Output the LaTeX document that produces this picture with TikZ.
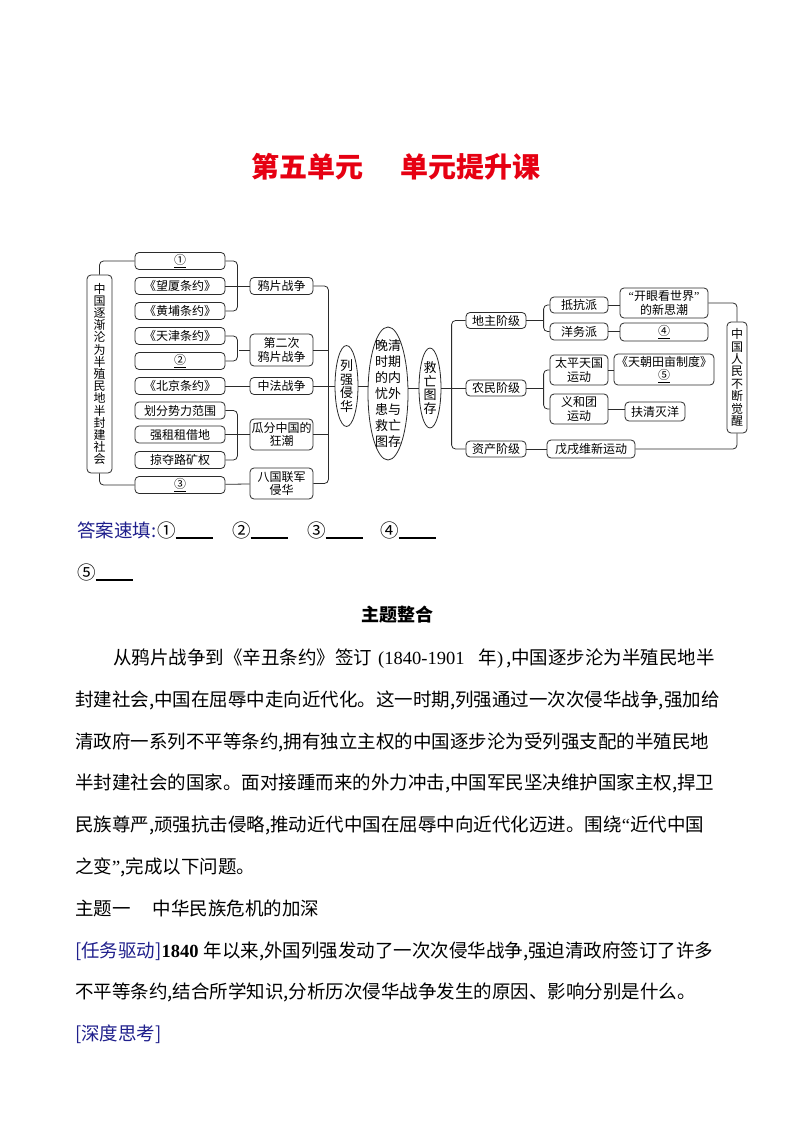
\documentclass[tikz,border=0pt]{standalone}
\usepackage{fontspec}
\setmainfont{Liberation Serif}
\newfontfamily\cjk{Noto Sans CJK SC}
\definecolor{ink}{HTML}{2B2B2B}
\definecolor{titlec}{HTML}{E60012}
\definecolor{navy}{HTML}{1F1F8C}
\usetikzlibrary{shapes.geometric}

\begin{document}
\begin{tikzpicture}[x=1pt,y=-1pt,every node/.style={font=\cjk\fontsize{12}{13.5}\selectfont}]
\tikzstyle{tag}=[rounded corners=4pt,draw=ink,line width=0.8pt,fill=white,inner sep=0pt,align=center,minimum width=90pt,minimum height=17pt]
\tikzstyle{war}=[tag,minimum width=63pt]
\tikzstyle{cls}=[tag,minimum width=60pt,minimum height=16pt]
\tikzstyle{grp}=[tag,minimum width=58pt,minimum height=17pt]
\tikzstyle{oval}=[ellipse,draw=ink,line width=0.8pt,fill=white,inner sep=0pt,align=center,font=\cjk\fontsize{13}{13.5}\selectfont]
\tikzstyle{link}=[draw=ink,line width=0.8pt,rounded corners=4pt]
\tikzstyle{para}=[anchor=base west,inner sep=0pt,font=\cjk\fontsize{18.5}{18.5}\selectfont]
\fill[white] (0,0) rectangle (794,1123);

% title
\node[font=\cjk\bfseries\fontsize{28}{28}\selectfont,text=titlec] (title) at (396,167) {第五单元\hspace{37pt}单元提升课};

% left half: treaties and wars
\node[tag,minimum width=25pt,minimum height=198pt,font=\cjk\fontsize{12}{12.2}\selectfont] (lead) at (99.5,374) {中\\国\\逐\\渐\\沦\\为\\半\\殖\\民\\地\\半\\封\\建\\社\\会};
\node[tag] (t1) at (180,261) {\underline{①}};
\node[tag] (t2) at (180,286) {《望厦条约》};
\node[tag] (t3) at (180,311) {《黄埔条约》};
\node[tag] (t4) at (180,336) {《天津条约》};
\node[tag] (t5) at (180,361) {\underline{②}};
\node[tag] (t6) at (180,386) {《北京条约》};
\node[tag] (t7) at (180,410.5) {划分势力范围};
\node[tag] (t8) at (180,434.5) {强租租借地};
\node[tag] (t9) at (180,460) {掠夺路矿权};
\node[tag] (t10) at (180,485) {\underline{③}};
\node[war] (yapian) at (281.5,286) {鸦片战争};
\node[war,minimum height=32pt] (dier) at (281.5,350) {第二次\\鸦片战争};
\node[war] (zhongfa) at (281.5,386) {中法战争};
\node[war,minimum height=31pt] (guafen) at (281.5,434.5) {瓜分中国的\\狂潮};
\node[war,minimum height=31pt] (baguo) at (281.5,483.5) {八国联军\\侵华};
\draw[link] (lead.north) |- (t1.west);
\draw[link] (lead.south) |- (t10.west);
\draw[link] (t1.east) -- ++(12,0) |- (t3.east);
\draw[link] (t2) -- (yapian);
\draw[link] (t4.east) -- ++(12,0) |- (t5.east);
\draw[link] (dier.west) -- ++(-11,0);
\draw[link] (t6) -- (zhongfa);
\draw[link] (t7.east) -- ++(12,0) |- (t9.east);
\draw[link] (t8) -- (guafen);
\draw[link] (t10) -- (baguo);
\draw[link] (yapian.east) -- ++(15,0) |- (baguo.east);
\draw[link] (dier.east) -- ++(15,0);
\draw[link] (guafen.east) -- ++(15,0);

% centre
\node[oval,minimum width=23pt,minimum height=81pt] (liqiang) at (346.5,386) {列\\强\\侵\\华};
\node[oval,minimum width=40pt,minimum height=133pt,label={[align=center,font=\cjk\fontsize{13}{16}\selectfont]center:{晚清\\时期\\的内\\忧外\\患与\\救亡\\图存}}] (core) at (388,393.5) {};
\node[oval,minimum width=22pt,minimum height=80pt] (jiuwang) at (430,388) {救\\亡\\图\\存};
\draw[link] (zhongfa) -- (liqiang);
\draw[link] (liqiang.east) -- (liqiang.east -| core.west);
\draw[link] (jiuwang.west) -- (jiuwang.west -| core.east);

% right half: classes and movements
\node[cls] (dizhu) at (496,320.5) {地主阶级};
\node[cls] (nongmin) at (496,388) {农民阶级};
\node[cls] (zichan) at (496,449) {资产阶级};
\node[grp,minimum height=16pt] (dikang) at (579,305) {抵抗派};
\node[grp] (yangwu) at (579,331.5) {洋务派};
\node[grp,minimum height=30pt] (taiping) at (579,370) {太平天国\\运动};
\node[grp,minimum height=30pt] (yihe) at (579,409) {义和团\\运动};
\node[tag,minimum width=88pt,minimum height=30pt] (kaiyan) at (664,303) {{\rmfamily“}开眼看世界{\rmfamily”}\\的新思潮};
\node[tag,minimum width=88pt,minimum height=18pt] (four) at (664,332) {\underline{④}};
\node[tag,minimum width=100pt,minimum height=31pt] (tianchao) at (664,369.5) {《天朝田亩制度》\\\underline{⑤}};
\node[tag,minimum width=60pt,minimum height=19pt] (fuqing) at (655,411.5) {扶清灭洋};
\node[tag,minimum width=88pt,minimum height=18pt] (wuxu) at (591,449) {戊戌维新运动};
\node[tag,minimum width=20pt,minimum height=111pt,font=\cjk\fontsize{12}{12.4}\selectfont] (juexing) at (737,377.5) {中\\国\\人\\民\\不\\断\\觉\\醒};
\draw[link] (jiuwang) -- (nongmin);
\draw[link] (dizhu.west) -- ++(-14,0) |- (zichan.west);
\draw[link] (dizhu.east) -- ++(18,0);
\draw[link] (dikang.west) -- ++(-6,0) |- (yangwu.west);
\draw[link] (nongmin.east) -- ++(18,0);
\draw[link] (taiping.west) -- ++(-6,0) |- (yihe.west);
\draw[link] (dikang.east) -- (dikang.east -| kaiyan.west);
\draw[link] (yangwu.east) -- (yangwu.east -| four.west);
\draw[link] (taiping.east) -- (taiping.east -| tianchao.west);
\draw[link] (yihe.east) -- (yihe.east -| fuqing.west);
\draw[link] (zichan) -- (wuxu);
\draw[link] (kaiyan.east) -| (juexing.north);
\draw[link] (wuxu.east) -| (juexing.south);

% answers
\node[para,text=navy] (ans) at (77,537) {答案速填:};
\node[para] (b1) at (157,537) {①\rule[-2pt]{37pt}{1.8pt}};
\node[para] (b2) at (232,537) {②\rule[-2pt]{37pt}{1.8pt}};
\node[para] (b3) at (307,537) {③\rule[-2pt]{37pt}{1.8pt}};
\node[para] (b4) at (380,537) {④\rule[-2pt]{37pt}{1.8pt}};
\node[para] (b5) at (77,579) {⑤\rule[-2pt]{37pt}{1.8pt}};

% text
\node[font=\cjk\bfseries\fontsize{18}{18}\selectfont] (head) at (397,615) {主题整合};
\node[para] (l1) at (113,664) {从鸦片战争到《辛丑条约》签订\hspace{6pt}{\rmfamily(1840-1901}\hspace{14pt}年{\rmfamily)}\hspace{3pt},中国逐步沦为半殖民地半};
\node[para] (l2) at (75,706) {封建社会,中国在屈辱中走向近代化。这一时期,列强通过一次次侵华战争,强加给};
\node[para] (l3) at (75,748) {清政府一系列不平等条约,拥有独立主权的中国逐步沦为受列强支配的半殖民地};
\node[para] (l4) at (75,789) {半封建社会的国家。面对接踵而来的外力冲击,中国军民坚决维护国家主权,捍卫};
\node[para] (l5) at (75,831) {民族尊严,顽强抗击侵略,推动近代中国在屈辱中向近代化迈进。围绕{\rmfamily“}近代中国};
\node[para] (l6) at (75,873) {之变{\rmfamily”},完成以下问题。};
\node[para] (l7) at (75,915) {主题一\hspace{22pt}中华民族危机的加深};
\node[para] (l8) at (75,957) {{\color{navy}[任务驱动]}{\rmfamily\bfseries 1840}\hspace{5pt}年以来,外国列强发动了一次次侵华战争,强迫清政府签订了许多};
\node[para] (l9) at (75,998) {不平等条约,结合所学知识,分析历次侵华战争发生的原因、影响分别是什么。};
\node[para,text=navy] (l10) at (75,1040) {[深度思考]};
\end{tikzpicture}
\end{document}
